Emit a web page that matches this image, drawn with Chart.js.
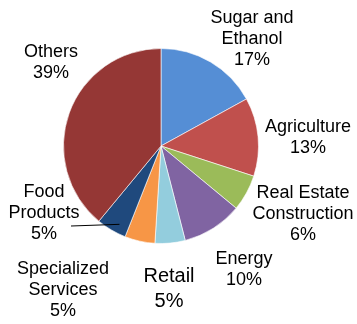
<!DOCTYPE html>
<html>
<head>
<meta charset="utf-8">
<script src="https://cdn.jsdelivr.net/npm/chart.js@4/dist/chart.umd.min.js"></script>
<style>
html,body{margin:0;padding:0;background:#fff;}
#wrap{width:357px;height:324px;position:relative;}
</style>
</head>
<body>
<div id="wrap"><canvas id="c" width="357" height="324"></canvas></div>
<script>
const categories = ["Sugar and Ethanol", "Agriculture", "Real Estate Construction", "Energy", "Retail", "Specialized Services", "Food Products", "Others"];
const shares = [17, 13, 6, 10, 5, 5, 5, 39];
const labelLines = [
  ["Sugar and", "Ethanol", "17%"],
  ["Agriculture", "13%"],
  ["Real Estate", "Construction", "6%"],
  ["Energy", "10%"],
  ["Retail", "5%"],
  ["Specialized", "Services", "5%"],
  ["Food", "Products", "5%"],
  ["Others", "39%"]
];
const colors = ["#558ED5", "#C0504D", "#9BBB59", "#8064A2", "#93CDDD", "#F79646", "#1F497D", "#953735"];

// label layout (pixel anchors of the first line's center, font size, line height)
const labelLayout = [
  {x: 252, y: 18, size: 18, lh: 21},
  {x: 308, y: 127, size: 18, lh: 21},
  {x: 303, y: 193, size: 18, lh: 21},
  {x: 244, y: 259, size: 18, lh: 21},
  {x: 169, y: 276, size: 20, lh: 25},
  {x: 63, y: 269, size: 18, lh: 21},
  {x: 44, y: 192, size: 18, lh: 21},
  {x: 51, y: 52, size: 18, lh: 21}
];

const labelPlugin = {
  id: 'labels',
  afterDraw(chart) {
    const ctx = chart.ctx;
    ctx.save();
    ctx.fillStyle = '#000';
    ctx.textAlign = 'center';
    ctx.textBaseline = 'middle';
    labelLines.forEach((lines, i) => {
      const L = labelLayout[i];
      ctx.font = L.size + 'px "Liberation Sans", Arial, sans-serif';
      lines.forEach((t, j) => ctx.fillText(t, L.x, L.y + j * L.lh));
    });
    // leader line for Food Products
    const arc = chart.getDatasetMeta(0).data[6];
    const p = arc.getProps(['x','y','startAngle','endAngle','outerRadius'], true);
    const mid = (p.startAngle + p.endAngle) / 2;
    const r = p.outerRadius - 10;
    ctx.strokeStyle = '#000';
    ctx.lineWidth = 1;
    ctx.beginPath();
    ctx.moveTo(71, 226);
    ctx.lineTo(p.x + Math.cos(mid) * r + 3, p.y + Math.sin(mid) * r + 3);
    ctx.stroke();
    ctx.restore();
  }
};

new Chart(document.getElementById('c'), {
  type: 'pie',
  data: {
    labels: categories,
    datasets: [{
      data: shares,
      backgroundColor: colors,
      borderColor: 'rgba(255,255,255,0.6)',
      borderWidth: 1
    }]
  },
  options: {
    responsive: false,
    animation: false,
    layout: {padding: {left: 63, right: 98, top: 48, bottom: 80}},
    plugins: {legend: {display: false}, tooltip: {enabled: false}}
  },
  plugins: [labelPlugin]
});
</script>
</body>
</html>
